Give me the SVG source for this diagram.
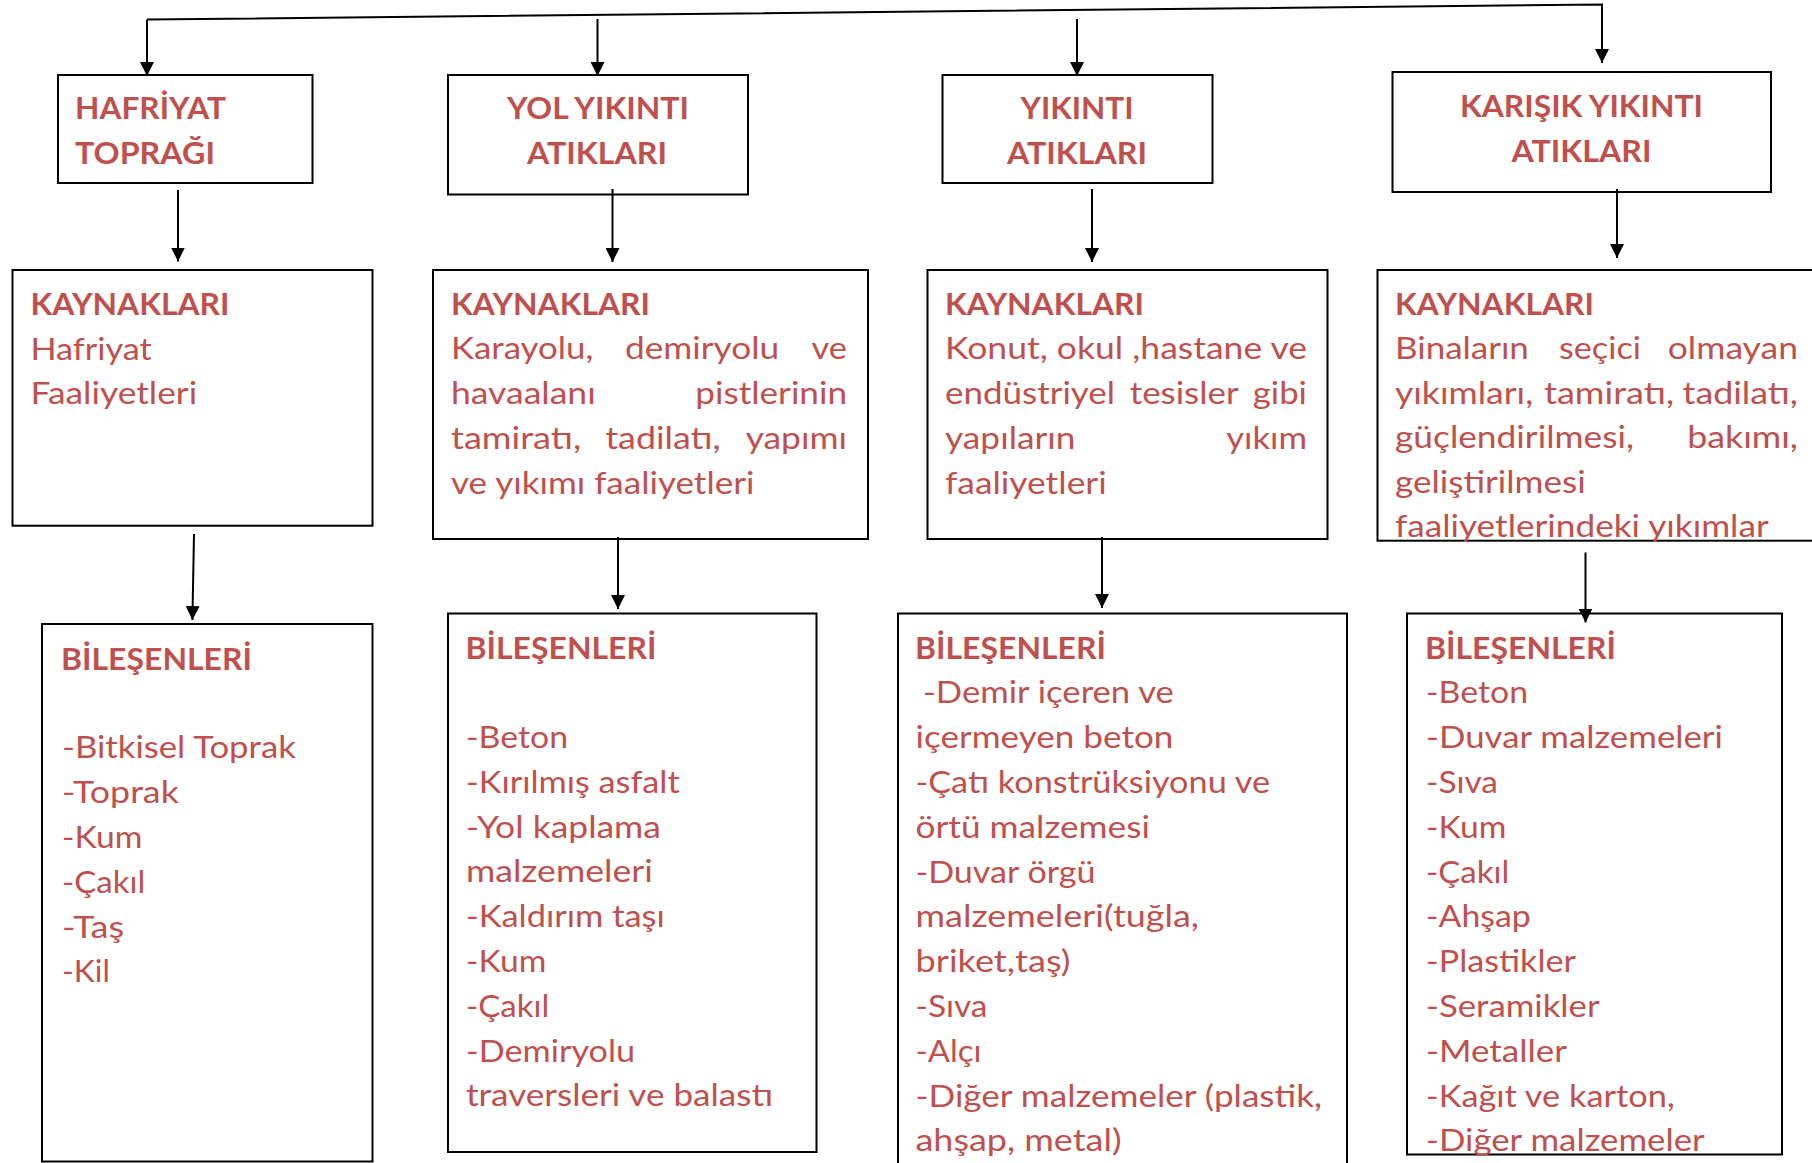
<svg xmlns="http://www.w3.org/2000/svg" width="1812" height="1163" viewBox="0 0 1812 1163">
<style>
.box{fill:#fff;stroke:#000;stroke-width:2}
.t{font-family:Lato,"Liberation Sans",sans-serif;font-size:31px;fill:#C0504D}
.b{font-weight:700}
.c{fill:none;stroke:#000;stroke-width:2;marker-end:url(#ah)}
.l{fill:none;stroke:#000;stroke-width:2}
</style>
<defs>
<marker id="ah" markerUnits="userSpaceOnUse" markerWidth="14" markerHeight="14" refX="14" refY="7" orient="auto"><path d="M0,0 L14,7 L0,14 z" fill="#000"/></marker>
</defs>
<rect width="1812" height="1163" fill="#fff"/>

<g id="hafriyat-topragi">
<rect class="box" x="58" y="75" width="254.5" height="108"/>
<text class="t b" x="75" y="119.3" textLength="151" lengthAdjust="spacingAndGlyphs">HAFRİYAT</text>
<text class="t b" x="75" y="164.3" textLength="140" lengthAdjust="spacingAndGlyphs">TOPRAĞI</text>
</g>
<g id="yol-yikinti-atiklari">
<rect class="box" x="448" y="75" width="300" height="119.5"/>
<text class="t b" x="598" y="119.3" text-anchor="middle" textLength="182" lengthAdjust="spacingAndGlyphs">YOL YIKINTI</text>
<text class="t b" x="597" y="164.3" text-anchor="middle" textLength="140" lengthAdjust="spacingAndGlyphs">ATIKLARI</text>
</g>
<g id="yikinti-atiklari">
<rect class="box" x="942.5" y="75" width="270" height="108"/>
<text class="t b" x="1077" y="119.3" text-anchor="middle" textLength="113" lengthAdjust="spacingAndGlyphs">YIKINTI</text>
<text class="t b" x="1077" y="164.3" text-anchor="middle" textLength="140" lengthAdjust="spacingAndGlyphs">ATIKLARI</text>
</g>
<g id="karisik-yikinti-atiklari">
<rect class="box" x="1392.5" y="72" width="378.5" height="120"/>
<text class="t b" x="1581.5" y="116.7" text-anchor="middle" textLength="243" lengthAdjust="spacingAndGlyphs">KARIŞIK YIKINTI</text>
<text class="t b" x="1581.5" y="161.7" text-anchor="middle" textLength="140" lengthAdjust="spacingAndGlyphs">ATIKLARI</text>
</g>

<g id="kaynaklari-1">
<rect class="box" x="12.5" y="270" width="360" height="255.7"/>
<text class="t b" x="30.5" y="314.5" textLength="199" lengthAdjust="spacingAndGlyphs">KAYNAKLARI</text>
<text class="t" x="30.5" y="359.5" textLength="121.4" lengthAdjust="spacingAndGlyphs">Hafriyat</text>
<text class="t" x="30.5" y="404" textLength="166.7" lengthAdjust="spacingAndGlyphs">Faaliyetleri</text>
</g>
<g id="kaynaklari-2">
<rect class="box" x="433" y="270" width="435" height="269"/>
<text class="t b" x="451" y="314.5" textLength="199" lengthAdjust="spacingAndGlyphs">KAYNAKLARI</text>
<text class="t" x="451" y="358.5" textLength="142.3" lengthAdjust="spacingAndGlyphs">Karayolu,</text>
<text class="t" x="624.9" y="358.5" textLength="154.3" lengthAdjust="spacingAndGlyphs">demiryolu</text>
<text class="t" x="811.5" y="358.5" textLength="35.5" lengthAdjust="spacingAndGlyphs">ve</text>
<text class="t" x="451" y="403.5" textLength="144.7" lengthAdjust="spacingAndGlyphs">havaalanı</text>
<text class="t" x="695.3" y="403.5" textLength="151.7" lengthAdjust="spacingAndGlyphs">pistlerinin</text>
<text class="t" x="451" y="448.5" textLength="130.1" lengthAdjust="spacingAndGlyphs">tamiratı,</text>
<text class="t" x="605.3" y="448.5" textLength="115.4" lengthAdjust="spacingAndGlyphs">tadilatı,</text>
<text class="t" x="745.7" y="448.5" textLength="101.3" lengthAdjust="spacingAndGlyphs">yapımı</text>
<text class="t" x="451" y="493.5" textLength="303.4" lengthAdjust="spacingAndGlyphs">ve yıkımı faaliyetleri</text>
</g>
<g id="kaynaklari-3">
<rect class="box" x="927.5" y="270" width="400" height="269"/>
<text class="t b" x="945" y="314.5" textLength="199" lengthAdjust="spacingAndGlyphs">KAYNAKLARI</text>
<text class="t" x="945" y="358.5" textLength="362" lengthAdjust="spacingAndGlyphs">Konut, okul ,hastane ve</text>
<text class="t" x="945" y="403.5" textLength="170.1" lengthAdjust="spacingAndGlyphs">endüstriyel</text>
<text class="t" x="1129.7" y="403.5" textLength="109" lengthAdjust="spacingAndGlyphs">tesisler</text>
<text class="t" x="1252.7" y="403.5" textLength="54.3" lengthAdjust="spacingAndGlyphs">gibi</text>
<text class="t" x="945" y="448.5" textLength="130.5" lengthAdjust="spacingAndGlyphs">yapıların</text>
<text class="t" x="1226.2" y="448.5" textLength="80.8" lengthAdjust="spacingAndGlyphs">yıkım</text>
<text class="t" x="945" y="493.5" textLength="161.7" lengthAdjust="spacingAndGlyphs">faaliyetleri</text>
</g>
<g id="kaynaklari-4">
<rect class="box" x="1377.5" y="270" width="460" height="270.7"/>
<text class="t b" x="1395" y="314.5" textLength="199" lengthAdjust="spacingAndGlyphs">KAYNAKLARI</text>
<text class="t" x="1395" y="359" textLength="133.9" lengthAdjust="spacingAndGlyphs">Binaların</text>
<text class="t" x="1559" y="359" textLength="81.9" lengthAdjust="spacingAndGlyphs">seçici</text>
<text class="t" x="1667.7" y="359" textLength="130.3" lengthAdjust="spacingAndGlyphs">olmayan</text>
<text class="t" x="1395" y="403.5" textLength="138.2" lengthAdjust="spacingAndGlyphs">yıkımları,</text>
<text class="t" x="1544" y="403.5" textLength="130.1" lengthAdjust="spacingAndGlyphs">tamiratı,</text>
<text class="t" x="1682.6" y="403.5" textLength="115.4" lengthAdjust="spacingAndGlyphs">tadilatı,</text>
<text class="t" x="1395" y="448" textLength="238.9" lengthAdjust="spacingAndGlyphs">güçlendirilmesi,</text>
<text class="t" x="1687.3" y="448" textLength="110.7" lengthAdjust="spacingAndGlyphs">bakımı,</text>
<text class="t" x="1395" y="493" textLength="190.6" lengthAdjust="spacingAndGlyphs">geliştirilmesi</text>
<text class="t" x="1395" y="537" textLength="373.7" lengthAdjust="spacingAndGlyphs">faaliyetlerindeki yıkımlar</text>
</g>

<g id="bilesenleri-1">
<rect class="box" x="42" y="624" width="330.5" height="537.5"/>
<text class="t b" x="61" y="670" textLength="191" lengthAdjust="spacingAndGlyphs">BİLEŞENLERİ</text>
<text class="t" x="62" y="758.3" textLength="233.8" lengthAdjust="spacingAndGlyphs">-Bitkisel Toprak</text>
<text class="t" x="62" y="803.1" textLength="116.8" lengthAdjust="spacingAndGlyphs">-Toprak</text>
<text class="t" x="62" y="847.9" textLength="80.3" lengthAdjust="spacingAndGlyphs">-Kum</text>
<text class="t" x="62" y="892.7" textLength="83.3" lengthAdjust="spacingAndGlyphs">-Çakıl</text>
<text class="t" x="62" y="937.5" textLength="62.1" lengthAdjust="spacingAndGlyphs">-Taş</text>
<text class="t" x="62" y="982.3" textLength="47.9" lengthAdjust="spacingAndGlyphs">-Kil</text>
</g>
<g id="bilesenleri-2">
<rect class="box" x="448" y="613.5" width="368.5" height="538.5"/>
<text class="t b" x="465.5" y="658.5" textLength="191" lengthAdjust="spacingAndGlyphs">BİLEŞENLERİ</text>
<text class="t" x="466" y="748" textLength="102.1" lengthAdjust="spacingAndGlyphs">-Beton</text>
<text class="t" x="466" y="792.8" textLength="213.7" lengthAdjust="spacingAndGlyphs">-Kırılmış asfalt</text>
<text class="t" x="466" y="837.6" textLength="194.9" lengthAdjust="spacingAndGlyphs">-Yol kaplama</text>
<text class="t" x="466" y="882.4" textLength="186.7" lengthAdjust="spacingAndGlyphs">malzemeleri</text>
<text class="t" x="466" y="927.2" textLength="198.8" lengthAdjust="spacingAndGlyphs">-Kaldırım taşı</text>
<text class="t" x="466" y="972" textLength="80.3" lengthAdjust="spacingAndGlyphs">-Kum</text>
<text class="t" x="466" y="1016.8" textLength="83.3" lengthAdjust="spacingAndGlyphs">-Çakıl</text>
<text class="t" x="466" y="1061.6" textLength="169.1" lengthAdjust="spacingAndGlyphs">-Demiryolu</text>
<text class="t" x="466" y="1106.4" textLength="307.1" lengthAdjust="spacingAndGlyphs">traversleri ve balastı</text>
</g>
<g id="bilesenleri-3">
<rect class="box" x="898" y="613.5" width="449" height="570"/>
<text class="t b" x="915" y="658.5" textLength="191" lengthAdjust="spacingAndGlyphs">BİLEŞENLERİ</text>
<text class="t" x="923" y="703.3" textLength="250.9" lengthAdjust="spacingAndGlyphs">-Demir içeren ve</text>
<text class="t" x="915.5" y="748.1" textLength="257.9" lengthAdjust="spacingAndGlyphs">içermeyen beton</text>
<text class="t" x="915.5" y="792.9" textLength="354.5" lengthAdjust="spacingAndGlyphs">-Çatı konstrüksiyonu ve</text>
<text class="t" x="915.5" y="837.7" textLength="234.4" lengthAdjust="spacingAndGlyphs">örtü malzemesi</text>
<text class="t" x="915.5" y="882.5" textLength="180.1" lengthAdjust="spacingAndGlyphs">-Duvar örgü</text>
<text class="t" x="915.5" y="927.3" textLength="283.5" lengthAdjust="spacingAndGlyphs">malzemeleri(tuğla,</text>
<text class="t" x="915.5" y="972.1" textLength="154.9" lengthAdjust="spacingAndGlyphs">briket,taş)</text>
<text class="t" x="915.5" y="1016.9" textLength="71.9" lengthAdjust="spacingAndGlyphs">-Sıva</text>
<text class="t" x="915.5" y="1061.7" textLength="65.9" lengthAdjust="spacingAndGlyphs">-Alçı</text>
<text class="t" x="915.5" y="1106.5" textLength="406.5" lengthAdjust="spacingAndGlyphs">-Diğer malzemeler (plastik,</text>
<text class="t" x="915.5" y="1151.3" textLength="206" lengthAdjust="spacingAndGlyphs">ahşap, metal)</text>
</g>
<g id="bilesenleri-4">
<rect class="box" x="1407" y="613.5" width="375" height="541"/>
<text class="t b" x="1425" y="658.5" textLength="191" lengthAdjust="spacingAndGlyphs">BİLEŞENLERİ</text>
<text class="t" x="1426" y="703.3" textLength="102.1" lengthAdjust="spacingAndGlyphs">-Beton</text>
<text class="t" x="1426" y="748.1" textLength="296.9" lengthAdjust="spacingAndGlyphs">-Duvar malzemeleri</text>
<text class="t" x="1426" y="792.9" textLength="71.9" lengthAdjust="spacingAndGlyphs">-Sıva</text>
<text class="t" x="1426" y="837.7" textLength="80.3" lengthAdjust="spacingAndGlyphs">-Kum</text>
<text class="t" x="1426" y="882.5" textLength="83.3" lengthAdjust="spacingAndGlyphs">-Çakıl</text>
<text class="t" x="1426" y="927.3" textLength="104.7" lengthAdjust="spacingAndGlyphs">-Ahşap</text>
<text class="t" x="1426" y="972.1" textLength="150" lengthAdjust="spacingAndGlyphs">-Plastikler</text>
<text class="t" x="1426" y="1016.9" textLength="173.6" lengthAdjust="spacingAndGlyphs">-Seramikler</text>
<text class="t" x="1426" y="1061.7" textLength="141" lengthAdjust="spacingAndGlyphs">-Metaller</text>
<text class="t" x="1426" y="1106.5" textLength="248.7" lengthAdjust="spacingAndGlyphs">-Kağıt ve karton,</text>
<text class="t" x="1426" y="1151.3" textLength="278.7" lengthAdjust="spacingAndGlyphs">-Diğer malzemeler</text>
</g>

<g id="connectors">
<path class="c" d="M147,19.5 L1602,4.5 L1602,63"/>
<path class="c" d="M147,19.5 L147,76"/>
<path class="c" d="M597.5,19 L597.5,76"/>
<path class="c" d="M1077,19 L1077,76"/>
<path class="c" d="M178,190 L178,261.5"/>
<path class="c" d="M612.5,189 L612.5,262"/>
<path class="c" d="M1092,189 L1092,262"/>
<path class="c" d="M1617,189 L1617,258"/>
<path class="c" d="M194,534 L192.4,620"/>
<path class="c" d="M618,537 L618,609"/>
<path class="c" d="M1102,537 L1102,608"/>
<path class="c" d="M1585.5,552.5 L1585.5,622.5"/>
</g>
</svg>
